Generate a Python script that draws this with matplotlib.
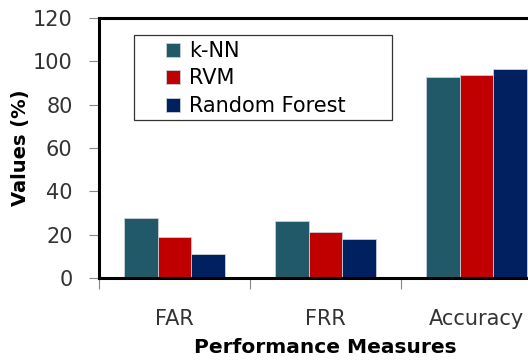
import numpy as np
import matplotlib
matplotlib.use("Agg")
import matplotlib.pyplot as plt
from matplotlib.patches import Rectangle
from matplotlib.ticker import FixedLocator

categories = ["FAR", "FRR", "Accuracy"]
knn = [27.9, 26.3, 92.6]
rvm = [18.9, 21.2, 93.7]
rf = [11.3, 18.0, 96.5]
series_names = ["k-NN", "RVM", "Random Forest"]
colors = ["#215968", "#C00000", "#002060"]

plt.rcParams['font.family'] = ['DejaVu Sans']

fig = plt.figure(figsize=(5.28, 3.61), dpi=100)
# plot area runs off the right edge, as in the original
ax = fig.add_axes([99 / 528, 83 / 361, 453 / 528, 260 / 361])

x = np.arange(len(categories)) + 0.5
w = 0.222
for i, (vals, name, c) in enumerate(zip([knn, rvm, rf], series_names, colors)):
    ax.bar(x + (i - 1) * w, vals, w, color=c, label=name,
           edgecolor="#c8d0d8", linewidth=0.6)

ax.set_xlim(0, 3)
ax.set_ylim(0, 120)
ax.set_yticks(range(0, 121, 20))
ax.set_xticks(x)
ax.set_xticklabels(categories)
ax.xaxis.set_minor_locator(FixedLocator([0, 1, 2, 3]))
fs = 15
ax.tick_params(axis="x", which="major", length=0, pad=22, labelsize=fs, labelcolor="#333333")
ax.tick_params(axis="x", which="minor", length=8, width=0.8, color="#888888", direction="out")
ax.tick_params(axis="y", length=7, width=0.8, color="#888888", labelsize=fs, labelcolor="#333333", pad=12)

for side in ["top", "left", "bottom"]:
    ax.spines[side].set_linewidth(2.2)
    ax.spines[side].set_color("black")
ax.spines["right"].set_visible(False)

ax.set_ylabel("Values (%)", fontsize=14, fontweight="bold", labelpad=2)
ax.set_xlabel("Performance Measures", fontsize=14.5, fontweight="bold", labelpad=7)

# legend box drawn separately, it is wider than its entries
ax.add_patch(Rectangle((0.077, 0.608), 0.57, 0.327, transform=ax.transAxes,
                       facecolor="white", edgecolor="#333333", linewidth=0.9, zorder=4))
leg = ax.legend(loc="upper left", bbox_to_anchor=(0.148, 0.912), fontsize=fs,
                frameon=False, handlelength=0.65, handleheight=0.65, handletextpad=0.45,
                borderpad=0, labelspacing=0.36, borderaxespad=0)
leg.set_zorder(5)
for h in leg.legend_handles:
    h.set_edgecolor("#c8d0d8")

fig.savefig("out.png", dpi=100)
